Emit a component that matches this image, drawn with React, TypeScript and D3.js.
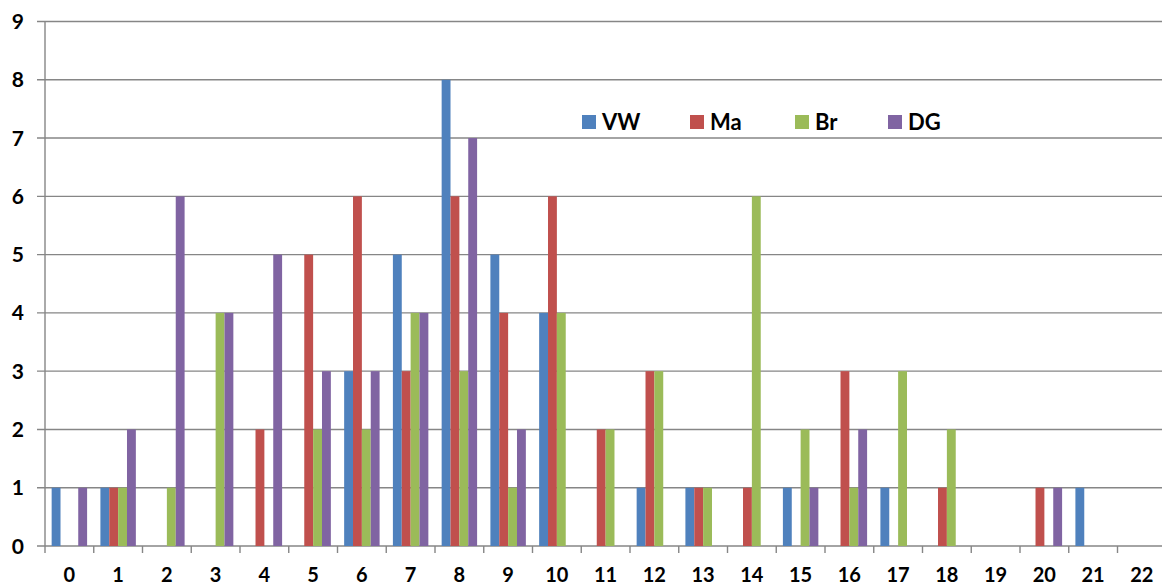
import React from "react";
import * as d3 from "d3";

const categories = ["0","1","2","3","4","5","6","7","8","9","10","11","12","13","14","15","16","17","18","19","20","21","22"];
const seriesNames = ["VW", "Ma", "Br", "DG"];
const seriesColors = ["#4F81BD", "#C0504D", "#9BBB59", "#8064A2"];
const vw = [1,1,0,0,0,0,3,5,8,5,4,0,1,1,0,1,0,1,0,0,0,1,0];
const ma = [0,1,0,0,2,5,6,3,6,4,6,2,3,1,1,0,3,0,1,0,1,0,0];
const br = [0,1,1,4,0,2,2,4,3,1,4,2,3,1,6,2,1,3,2,0,0,0,0];
const dg = [1,2,6,4,5,3,3,4,7,2,0,0,0,0,0,1,2,0,0,0,1,0,0];
const yTicks = [0,1,2,3,4,5,6,7,8,9];
const legendX = [582, 690, 795, 888];

const W = 1162, H = 587;
const left = 45, bandW = 48.75;
const bottom = 546, top = 21.5;
const FONT = "Lato, 'Open Sans', sans-serif";
const GRID = "#868686";

export default function App() {
  const allSeries = [vw, ma, br, dg];
  const x = d3.scaleBand<string>().domain(categories).range([left, left + bandW * categories.length]).padding(0);
  const bw = x.bandwidth();
  const barW = bw / 5.5;
  const xs = d3.scaleBand<string>().domain(seriesNames).range([barW * 0.75, barW * 4.75]).padding(0);
  const y = d3.scaleLinear().domain([0, 9]).range([bottom, top]);

  return (
    <svg width={W} height={H} style={{ position: "absolute", left: 0, top: 0, background: "#fff" }}>
      {yTicks.map((t) => (
        <g key={"g" + t}>
          <line x1={37} x2={W} y1={y(t)} y2={y(t)} stroke={GRID} strokeWidth={1.4} />
          <text x={24} y={y(t)} dy="0.36em" textAnchor="end" fontFamily={FONT} fontWeight={700} fontSize={21} fill="#000">{t}</text>
        </g>
      ))}
      <line x1={left} x2={left} y1={top} y2={bottom + 7} stroke={GRID} strokeWidth={1.4} />
      {categories.map((c) => (
        <g key={"c" + c}>
          <line x1={(x(c) as number) + bw} x2={(x(c) as number) + bw} y1={bottom} y2={bottom + 7} stroke={GRID} strokeWidth={1.4} />
          <text x={(x(c) as number) + bw / 2} y={582} textAnchor="middle" fontFamily={FONT} fontWeight={700} fontSize={20} fill="#000">{c}</text>
        </g>
      ))}
      {allSeries.map((vals, si) =>
        vals.map((v, ci) =>
          v > 0 ? (
            <rect key={si + "-" + ci}
              x={(x(categories[ci]) as number) + (xs(seriesNames[si]) as number)}
              y={y(v)} width={xs.bandwidth()} height={bottom - y(v)}
              fill={seriesColors[si]} />
          ) : null
        )
      )}
      {seriesNames.map((s, i) => (
        <g key={"l" + s}>
          <rect x={legendX[i]} y={115} width={14} height={14} fill={seriesColors[i]} />
          <text x={legendX[i] + 20} y={129.5} fontFamily={FONT} fontWeight={700} fontSize={22} fill="#000">{s}</text>
        </g>
      ))}
    </svg>
  );
}
